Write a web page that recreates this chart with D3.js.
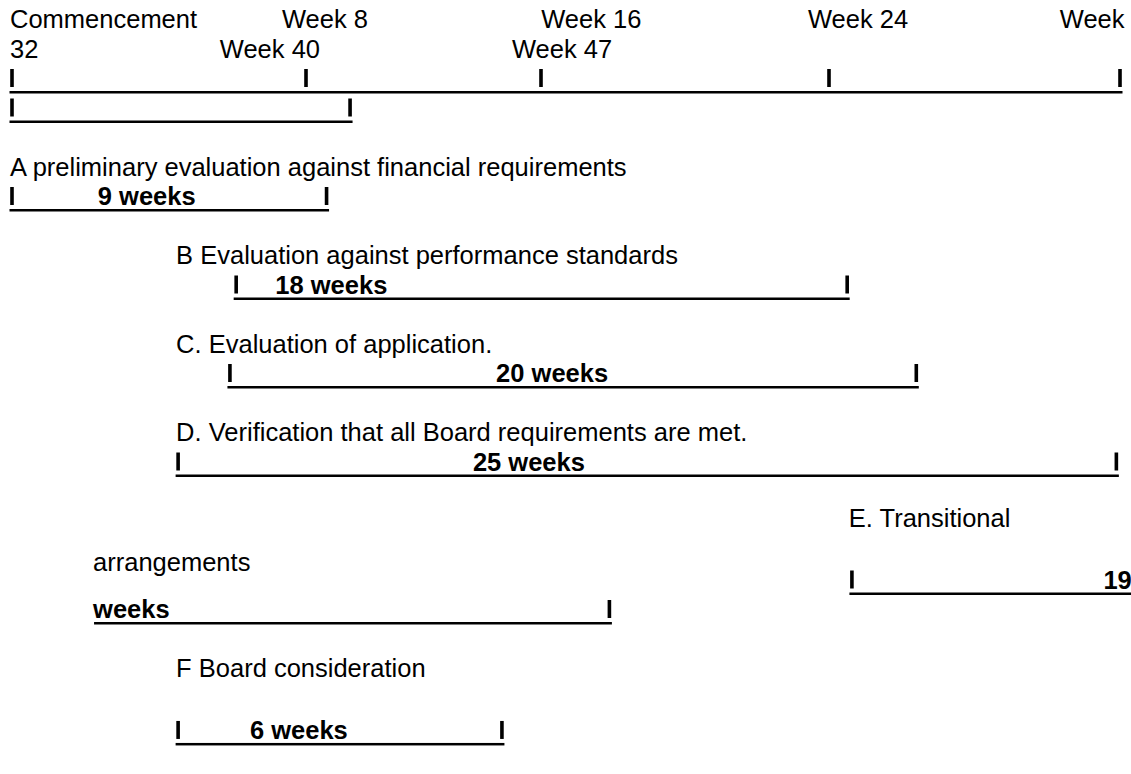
<!DOCTYPE html>
<html>
<head>
<meta charset="utf-8">
<script src="https://cdn.jsdelivr.net/npm/d3@7"></script>
<style>
    body { margin: 0; background: #fff; }
    text { font-family: "Liberation Sans", Arial, sans-serif; font-size: 25.5px; fill: #000; }
    .dur { font-weight: bold; }
</style>
</head>
<body>
<div id="chart"></div>
<script>
// Data
const axisWeeks = [0, 8, 16, 24, 32];

const headerLabels = ["Commencement", "Week 8", "Week 16", "Week 24", "Week", "32", "Week 40", "Week 47"];
const headerWeeks = [0, 7.4, 16.06, 23.47, 30.4, 0, 5.71, 15.08];
const headerLines = [0, 0, 0, 0, 0, 1, 1, 1];

const taskLabels = [
    "A preliminary evaluation against financial requirements",
    "B Evaluation against performance standards",
    "C. Evaluation of application.",
    "D. Verification that all Board requirements are met.",
    "E. Transitional",
    "arrangements",
    "F Board consideration"
];
const taskLabelWeeks = [0, 4.52, 4.52, 4.52, 24.6, 2.26, 4.52];
const taskLabelLines = [5, 8, 11, 14, 16.9, 18.4, 22];

// bar segments (the axis wraps onto 2 lines, E wraps onto 2 lines)
const barStart = [0, 0, 0, 6.1, 5.93, 4.52, 24.63, 2.26, 4.52];
const barEnd = [32, 9.5, 8.7, 24.5, 26.4, 31.9, 32.3, 17.9, 14.67];
const barLines = [2, 3, 6, 9, 12, 15, 19, 20, 24.1];
const startMark = [true, true, true, true, true, true, true, false, true];
const endMark = [true, true, true, true, true, true, false, true, true];

const durationText = ["", "", "9 weeks", "18 weeks", "20 weeks", "25 weeks", "19", "weeks", "6 weeks"];
const durationWeeks = [0, 0, 2.39, 7.22, 14.54, 13.75, 31.6, 2.26, 6.53];

const width = 1131;
const height = 774;

const svg = d3.select("#chart")
    .append("svg")
    .attr("width", width)
    .attr("height", height);

// week -> x (the page layout is not evenly spaced, so piecewise)
const x = d3.scaleLinear()
    .domain(axisWeeks)
    .range([12, 306, 541, 829, 1120]);

// document line -> baseline y
const y = d3.scaleLinear()
    .domain([0, 24])
    .range([28, 736]);

const bars = barStart.map((s, i) => ({
    start: s,
    end: barEnd[i],
    line: barLines[i],
    startMark: startMark[i],
    endMark: endMark[i],
    label: durationText[i],
    labelAt: durationWeeks[i]
}));

// header labels
svg.selectAll(".header")
    .data(headerLabels)
    .enter()
    .append("text")
    .attr("class", "header")
    .attr("x", (d, i) => x(headerWeeks[i]) - 2)
    .attr("y", (d, i) => y(headerLines[i]))
    .text(d => d);

// task labels
svg.selectAll(".task")
    .data(taskLabels)
    .enter()
    .append("text")
    .attr("class", "task")
    .attr("x", (d, i) => x(taskLabelWeeks[i]) - 2)
    .attr("y", (d, i) => y(taskLabelLines[i]))
    .text(d => d);

// bar rows
const rows = svg.selectAll(".bar")
    .data(bars)
    .enter()
    .append("g")
    .attr("class", "bar")
    .attr("transform", d => `translate(0,${y(d.line)})`);

// underline
rows.append("rect")
    .attr("x", d => d.startMark ? x(d.start) - 2.5 : x(d.start) - 1)
    .attr("y", 4)
    .attr("width", d => x(d.end) + 2.5 - (d.startMark ? x(d.start) - 2.5 : x(d.start) - 1))
    .attr("height", 2.5)
    .attr("fill", "#000");

// "I" marks
const marks = bars.flatMap(d => {
    const m = [];
    if (d.startMark) m.push({ line: d.line, week: d.start });
    if (d.endMark) m.push({ line: d.line, week: d.end });
    return m;
});
// axis week marks on the first axis line
axisWeeks.slice(1, -1).forEach(w => marks.push({ line: barLines[0], week: w }));

svg.selectAll(".mark")
    .data(marks)
    .enter()
    .append("rect")
    .attr("class", "mark")
    .attr("x", d => x(d.week) - 1.8)
    .attr("y", d => y(d.line) - 18)
    .attr("width", 3.6)
    .attr("height", 18)
    .attr("fill", "#000");

// duration text
rows.append("text")
    .attr("class", "dur")
    .attr("x", d => x(d.labelAt) - 2)
    .attr("y", 0)
    .text(d => d.label);
</script>
</body>
</html>
